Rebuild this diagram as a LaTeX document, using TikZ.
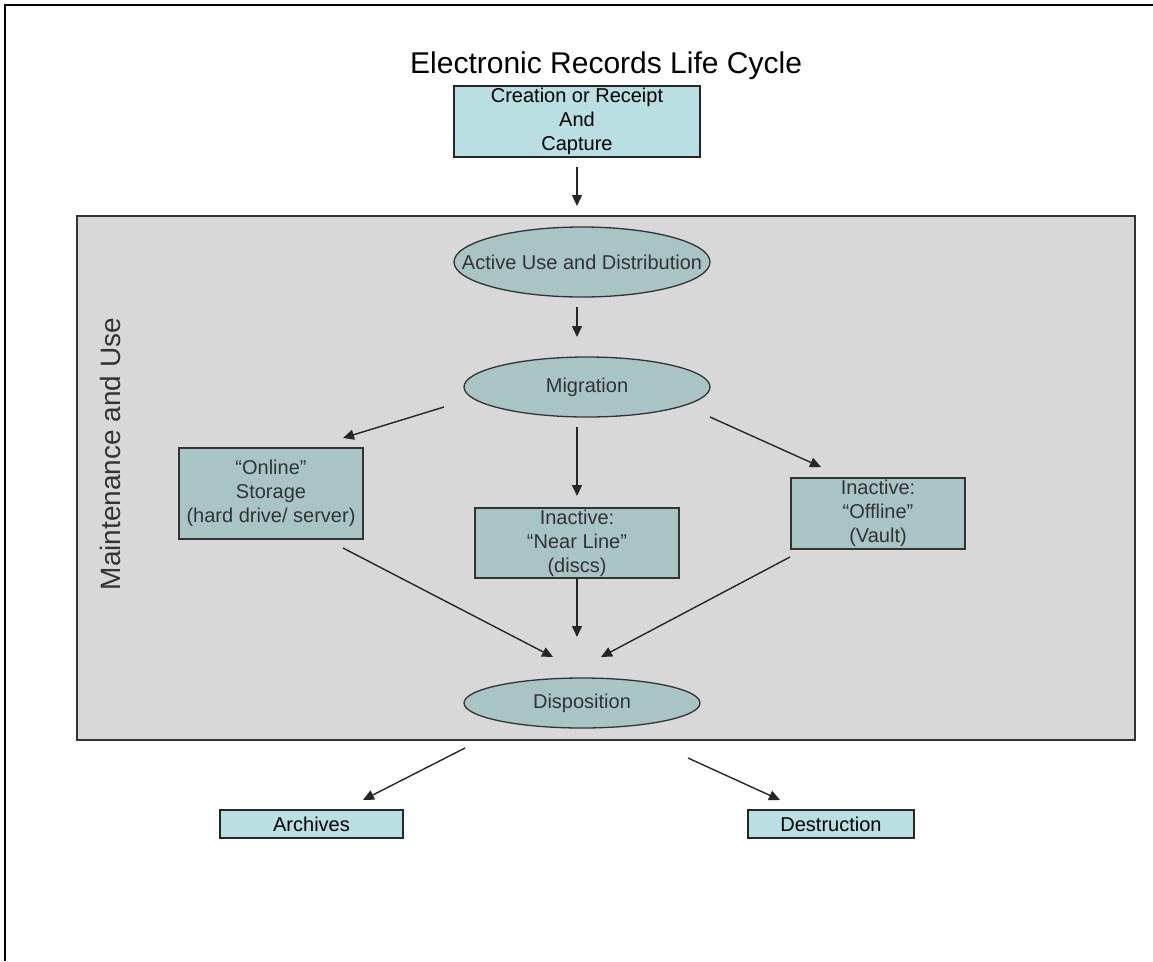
\documentclass[tikz,border=0pt]{standalone}
\usepackage{fontspec}
\setmainfont{Liberation Sans}
\usetikzlibrary{shapes.geometric,arrows.meta}

\definecolor{boxcyan}{HTML}{B9DFE2}
\definecolor{nodeteal}{HTML}{A8C4C4}
\definecolor{panelgray}{HTML}{D8D8D8}
\definecolor{inktext}{HTML}{333333}

\begin{document}
\begin{tikzpicture}[x=1pt,y=-1pt,
        lightbox/.style={draw=black!85, line width=1.3pt, fill=boxcyan, inner sep=0pt,
            align=center, font=\fontsize{20}{24}\selectfont},
        tealbox/.style={draw=black!80, line width=1.3pt, fill=nodeteal, inner sep=0pt,
            align=center, text=inktext, font=\fontsize{20}{24}\selectfont},
        tealoval/.style={tealbox, ellipse},
        flow/.style={-{Triangle[length=11pt,width=10pt]}, line width=1.4pt, draw=black!85}]
    \useasboundingbox (0,0) rectangle (1153,961);

    % Рамка
    \draw[line width=2.5pt] (5,961) -- (5,5) -- (1153,5);

    % Заголовок
    \node[anchor=base west, inner sep=0pt, font=\fontsize{30}{36}\selectfont] (title) at (410,73)
        {Electronic Records Life Cycle};
    \node[lightbox, minimum width=246pt, minimum height=71pt] (create) at (577,121.5)
        {Creation or Receipt\\And\\Capture};

    % Серая область
    \draw[fill=panelgray, draw=black!80, line width=1.3pt] (77,216) rectangle (1135,740);
    \node[rotate=90, text=inktext, font=\fontsize{28}{34}\selectfont] (side) at (110,454)
        {Maintenance and Use};

    % Узлы внутри
    \node[tealoval, minimum width=256pt, minimum height=70pt] (active) at (582,262)
        {\makebox[0pt]{Active Use and Distribution}};
    \node[tealoval, minimum width=246pt, minimum height=60pt] (migrate) at (587,387) {Migration};
    \node[tealbox, minimum width=184pt, minimum height=91pt] (online) at (271,493.5)
        {“Online”\\Storage\\(hard drive/ server)};
    \node[tealbox, minimum width=204pt, minimum height=70pt] (nearline) at (577,543)
        {Inactive:\\“Near Line”\\(discs)};
    \node[tealbox, minimum width=174pt, minimum height=71pt] (offline) at (878,513.5)
        {Inactive:\\“Offline”\\(Vault)};
    \node[tealoval, minimum width=236pt, minimum height=50pt] (dispose) at (582,703) {Disposition};

    % Итог
    \node[lightbox, minimum width=183pt, minimum height=28pt] (archive) at (311.5,824) {Archives};
    \node[lightbox, minimum width=166pt, minimum height=28pt] (destroy) at (831,824) {Destruction};

    % Концы стрелок
    \coordinate (c-out) at (577,167);   \coordinate (a-in) at (577,206);
    \coordinate (a-out) at (577,307);   \coordinate (m-in) at (577,337);
    \coordinate (m-left) at (444,407);  \coordinate (on-in) at (343,438);
    \coordinate (m-mid) at (577,427);   \coordinate (nl-in) at (577,496);
    \coordinate (m-right) at (710,417); \coordinate (off-in) at (821,467);
    \coordinate (on-out) at (343,548);  \coordinate (d-left) at (553,657);
    \coordinate (nl-out) at (577,578);  \coordinate (d-mid) at (577,637);
    \coordinate (off-out) at (790,557); \coordinate (d-right) at (601,657);
    \coordinate (d-out1) at (465,748);  \coordinate (ar-in) at (363,800);
    \coordinate (d-out2) at (688,758);  \coordinate (de-in) at (780,800);

    % Стрелки
    \foreach \from/\to in {c-out/a-in, a-out/m-in, m-left/on-in, m-mid/nl-in,
        m-right/off-in, on-out/d-left, nl-out/d-mid, off-out/d-right,
        d-out1/ar-in, d-out2/de-in}
        \draw[flow] (\from) -- (\to);
\end{tikzpicture}
\end{document}
